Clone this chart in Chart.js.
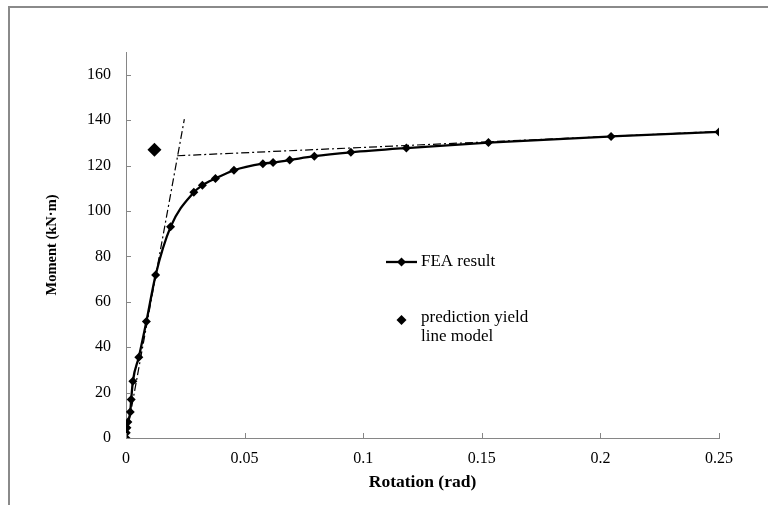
<!DOCTYPE html>
<html>
<head>
<meta charset="utf-8">
<script src="https://cdn.jsdelivr.net/npm/chart.js@4.4.1/dist/chart.umd.min.js"></script>
<style>
  html, body { margin: 0; padding: 0; background: #fff; }
  canvas { display: block; }
</style>
</head>
<body>
<canvas id="c" width="768" height="505"></canvas>
<script>
// ---- data ----
const feaRotation = [0, 0.0001, 0.0004, 0.0008, 0.0018, 0.0022, 0.0029, 0.0054, 0.0086, 0.0125, 0.0188, 0.0286, 0.0322, 0.0377, 0.0455, 0.0577, 0.0620, 0.0690, 0.0794, 0.0948, 0.1182, 0.1528, 0.2045, 0.25];
const feaMoment   = [0, 2.3, 4.5, 7, 11.5, 17, 25, 35.6, 51.3, 71.8, 93.0, 108.2, 111.3, 114.3, 117.9, 120.8, 121.3, 122.4, 124.1, 125.8, 127.7, 130.1, 132.8, 134.8];
const predRotation = [0.012];
const predMoment   = [127];
const elasticRotation = [0, 0.0246];
const elasticMoment   = [0, 140.4];
const plasticRotation = [0.0216, 0.25];
const plasticMoment   = [124.3, 135.0];
const xTicks = [0, 0.05, 0.1, 0.15, 0.2, 0.25];
const yTicks = [0, 20, 40, 60, 80, 100, 120, 140, 160];
const labels = { fea: 'FEA result', pred: ['prediction yield', 'line model'], x: 'Rotation (rad)', y: 'Moment (kN·m)' };

const FONT = "'Liberation Serif', 'Times New Roman', serif";
const pts = (xs, ys) => xs.map((x, i) => ({ x, y: ys[i] }));

const deco = {
  id: 'deco',
  beforeDraw(chart) {
    const c = chart.ctx;
    c.save();
    c.fillStyle = '#fff';
    c.fillRect(0, 0, chart.width, chart.height);
    c.strokeStyle = '#8a8a8a';
    c.lineWidth = 2;
    c.strokeRect(9, 7, chart.width + 20, chart.height + 20);
    c.restore();
  },
  afterDraw(chart) {
    const c = chart.ctx;
    const xs = chart.scales.x, ys = chart.scales.y;
    const ca = chart.chartArea;
    c.save();
    // inward tick marks
    c.strokeStyle = '#868686';
    c.lineWidth = 1;
    c.beginPath();
    xTicks.forEach(v => {
      const px = Math.round(xs.getPixelForValue(v)) + 0.5;
      c.moveTo(px, ca.bottom); c.lineTo(px, ca.bottom - 5);
    });
    yTicks.forEach(v => {
      const py = Math.round(ys.getPixelForValue(v)) + 0.5;
      c.moveTo(ca.left, py); c.lineTo(ca.left + 5, py);
    });
    c.stroke();
    // legend
    c.fillStyle = '#000';
    c.strokeStyle = '#000';
    c.lineWidth = 2.3;
    c.beginPath(); c.moveTo(386, 262); c.lineTo(417, 262); c.stroke();
    const diamond = (x, y, r) => {
      c.beginPath(); c.moveTo(x, y - r); c.lineTo(x + r, y); c.lineTo(x, y + r); c.lineTo(x - r, y); c.closePath(); c.fill();
    };
    diamond(401.5, 262, 4.5);
    diamond(401.5, 320, 5);
    c.font = "17px " + FONT;
    c.textBaseline = 'middle';
    c.textAlign = 'left';
    c.fillText(labels.fea, 421, 262);
    c.fillText(labels.pred[0], 421, 318);
    c.fillText(labels.pred[1], 421, 337);
    c.restore();
  }
};

new Chart(document.getElementById('c'), {
  type: 'scatter',
  data: {
    datasets: [
      { label: labels.fea, data: pts(feaRotation, feaMoment), showLine: true, borderColor: '#000', backgroundColor: '#000',
        borderWidth: 2.3, pointStyle: 'rectRot', pointRadius: 4.5, pointBorderWidth: 0, cubicInterpolationMode: 'monotone', order: 1 },
      { label: 'pred', data: pts(predRotation, predMoment), showLine: false, backgroundColor: '#000', borderColor: '#000',
        pointStyle: 'rectRot', pointRadius: 7, pointBorderWidth: 0, order: 0 },
      { label: 'elastic', data: pts(elasticRotation, elasticMoment), showLine: true, borderColor: '#000', borderWidth: 1.2,
        borderDash: [8, 3, 2, 3], pointRadius: 0, order: 2 },
      { label: 'plastic', data: pts(plasticRotation, plasticMoment), showLine: true, borderColor: '#000', borderWidth: 1.2,
        borderDash: [8, 3, 2, 3], pointRadius: 0, order: 2 }
    ]
  },
  options: {
    responsive: false,
    animation: false,
    devicePixelRatio: 1,
    layout: { padding: { left: 0, right: 49, top: 52, bottom: 0 } },
    plugins: { legend: { display: false }, tooltip: { enabled: false } },
    scales: {
      x: {
        type: 'linear', min: 0, max: 0.25,
        afterBuildTicks: s => { s.ticks = xTicks.map(v => ({ value: v })); },
        afterFit: s => { s.height = 67; },
        grid: { display: false, drawTicks: false },
        border: { display: true, color: '#868686', width: 1 },
        ticks: { color: '#000', font: { family: FONT, size: 16 }, padding: 11, maxRotation: 0,
          callback: v => String(+Number(v).toFixed(2)) },
        title: { display: true, text: labels.x, color: '#000', font: { family: FONT, size: 17.5, weight: 'bold' },
          padding: { top: 0, bottom: 12.5 } }
      },
      y: {
        type: 'linear', min: 0, max: 170,
        afterBuildTicks: s => { s.ticks = yTicks.map(v => ({ value: v })); },
        afterFit: s => { s.width = 126; },
        grid: { display: false, drawTicks: false },
        border: { display: true, color: '#868686', width: 1 },
        ticks: { color: '#000', font: { family: FONT, size: 16 }, padding: 15 },
        title: { display: true, text: labels.y, color: '#000', font: { family: FONT, size: 14.5, weight: 'bold' },
          padding: { top: 44, bottom: 0 } }
      }
    }
  },
  plugins: [deco]
});
</script>
</body>
</html>
